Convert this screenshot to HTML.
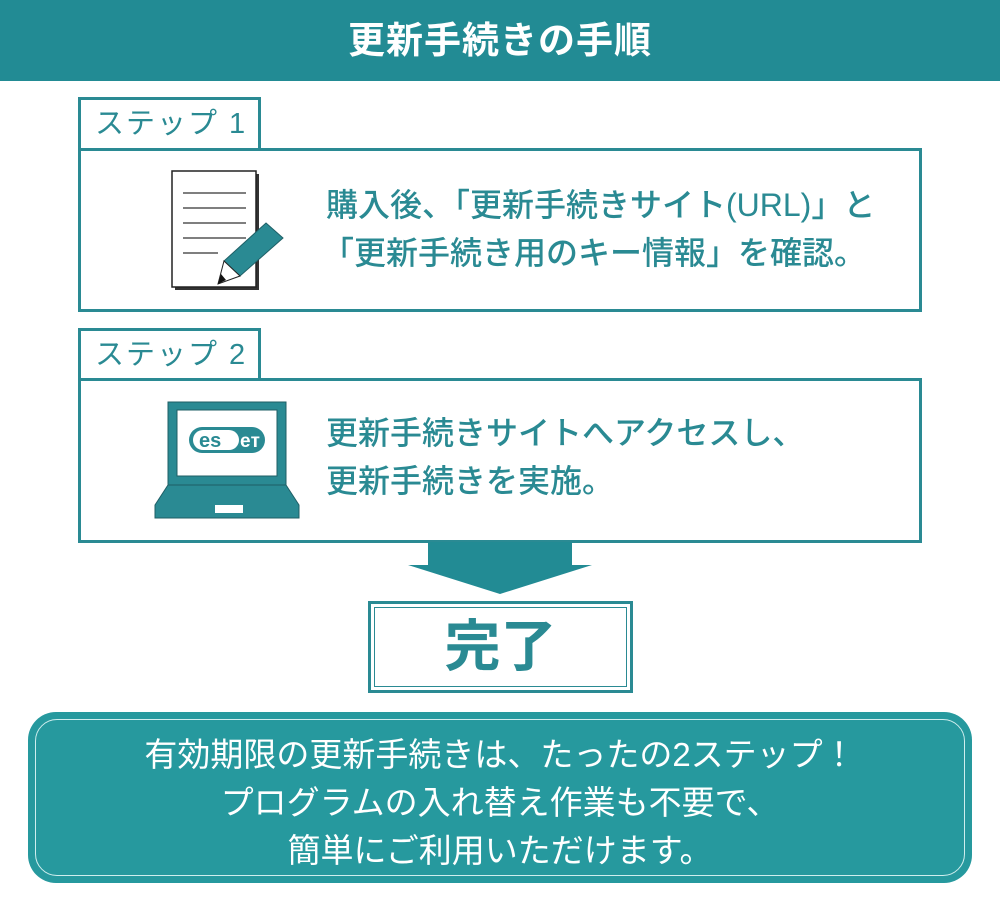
<!DOCTYPE html>
<html><head><meta charset="utf-8"><style>
*{margin:0;padding:0;box-sizing:border-box}
body{width:1000px;height:900px;background:#fff;position:relative;overflow:hidden;font-family:"Liberation Sans","Noto Sans CJK JP",sans-serif;color:#2a8a93}
.a{position:absolute}
.hdr{left:0;top:0;width:1000px;height:81px;background:#228b94;color:#fff;font-size:37px;font-weight:bold;text-align:center;line-height:81px;letter-spacing:1px}
.tab{border:3px solid #2a8a93;border-bottom:none;font-size:29px;line-height:48px;padding-left:14px;letter-spacing:2px}
.box{border:3px solid #2a8a93}
.t{font-size:32px;line-height:48px;white-space:nowrap;font-weight:500}
</style></head><body>
<div class="a hdr">更新手続きの手順</div>

<div class="a tab" style="left:78px;top:97px;width:183px;height:52px">ステップ 1</div>
<div class="a box" style="left:78px;top:148px;width:844px;height:164px"></div>
<svg class="a" style="left:168px;top:168px" width="120" height="126">
<rect x="7" y="6" width="84" height="116" fill="#333"/>
<rect x="4" y="3" width="84" height="116" fill="#fff" stroke="#222" stroke-width="1.5"/>
<g stroke="#555" stroke-width="1.5"><line x1="15" y1="25" x2="78" y2="25"/><line x1="15" y1="40" x2="78" y2="40"/><line x1="15" y1="55" x2="78" y2="55"/><line x1="15" y1="70" x2="78" y2="70"/><line x1="15" y1="85" x2="50" y2="85"/></g>
<polygon points="98,55 115,70 72,108 56,93" fill="#2a8a93" stroke="#1f5f66" stroke-width="1"/>
<polygon points="56,93 72,108 50,116" fill="#fff" stroke="#222" stroke-width="1"/>
<polygon points="53,106 58,112 50,116" fill="#111"/>
</svg>
<div class="a t" style="left:326px;top:181px">購入後、「更新手続きサイト(URL)」と</div>
<div class="a t" style="left:322px;top:229px">「更新手続き用のキー情報」を確認。</div>

<div class="a tab" style="left:78px;top:328px;width:183px;height:51px">ステップ 2</div>
<div class="a box" style="left:78px;top:378px;width:844px;height:165px"></div>
<svg class="a" style="left:153px;top:400px" width="150" height="120">
<rect x="15" y="2" width="118" height="83" fill="#2a8a93" stroke="#1f5f66"/>
<rect x="24" y="10" width="100" height="66" fill="#fff" stroke="#1f5f66"/>
<rect x="36" y="27" width="76" height="26" rx="13" fill="#2a8a93"/>
<rect x="40" y="30" width="46" height="20" rx="10" fill="#fff"/>
<text x="46" y="47" font-family="Liberation Sans,sans-serif" font-weight="bold" font-size="20" fill="#2a8a93">es</text>
<text x="87" y="47" font-family="Liberation Sans,sans-serif" font-weight="bold" font-size="19" fill="#fff">eт</text>
<polygon points="15,85 133,85 146,105 146,118 2,118 2,105" fill="#2a8a93" stroke="#1f5f66"/>
<rect x="62" y="105" width="28" height="8" fill="#fff"/>
</svg>
<div class="a t" style="left:326px;top:409px">更新手続きサイトへアクセスし、</div>
<div class="a t" style="left:326px;top:457px">更新手続きを実施。</div>

<svg class="a" style="left:405px;top:542px" width="190" height="55">
<polygon points="23,0 167,0 167,23 187,23 95,52 3,23 23,23" fill="#228b94"/>
</svg>

<div class="a" style="left:368px;top:601px;width:265px;height:92px;border:3px solid #2a8a93"></div>
<div class="a" style="left:374px;top:607px;width:253px;height:80px;border:1.5px solid #2a8a93;font-size:56px;font-weight:bold;text-align:center;line-height:78px">完了</div>

<div class="a" style="left:28px;top:712px;width:944px;height:171px;background:#26999e;border-radius:28px"></div>
<div class="a" style="left:35px;top:719px;width:930px;height:157px;border:1.5px solid #cfeeee;border-radius:22px"></div>
<div class="a" style="left:28px;top:731px;width:944px;text-align:center;color:#fff;font-size:33px;line-height:48px">有効期限の更新手続きは、たったの2ステップ！<br>プログラムの入れ替え作業も不要で、<br>簡単にご利用いただけます。</div>
</body></html>
